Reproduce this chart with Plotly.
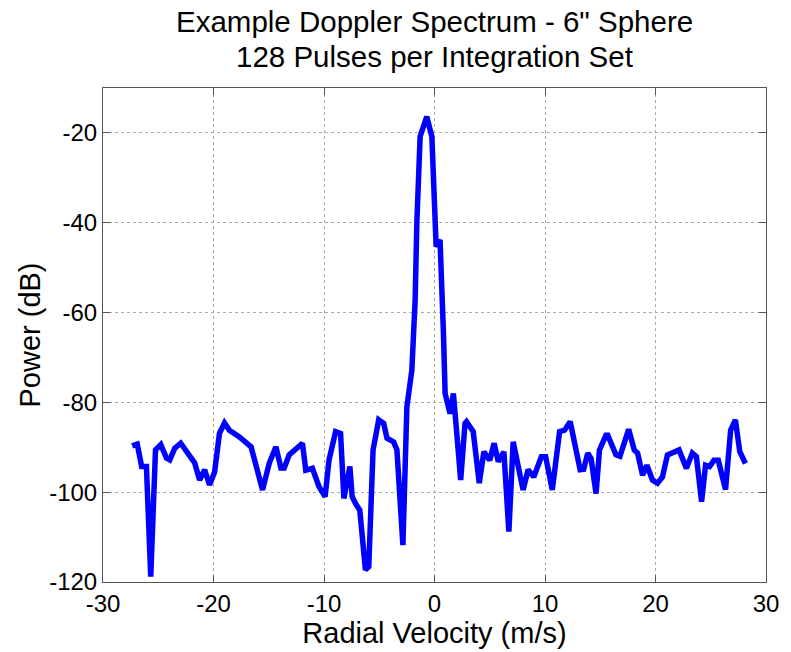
import plotly.graph_objects as go

velocity = [-27.36, -26.9, -26.5, -26.07, -25.68, -25.25, -24.77, -24.26, -23.96, -23.5,
            -22.97, -21.7, -21.26, -20.8, -20.36, -19.9, -19.46, -19.0, -18.56, -17.66,
            -16.6, -16.15, -15.56, -14.95, -14.35, -13.9, -13.6, -13.15, -12.55, -11.95,
            -11.65, -11.05, -10.45, -9.9, -9.55, -8.95, -8.5, -8.2, -7.66, -7.45,
            -7.15, -6.76, -6.25, -5.95, -5.56, -5.05, -4.6, -4.3, -3.7, -3.4,
            -2.86, -2.5, -2.05, -1.75, -1.6, -1.3, -0.7, -0.24, 0.15, 0.5,
            0.81, 0.96, 1.41, 1.71, 2.37, 2.76, 2.9, 3.5, 4.05, 4.47,
            5.0, 5.4, 5.77, 6.28, 6.73, 7.12, 8.02, 8.47, 8.98, 9.67,
            10.06, 10.66, 11.32, 11.77, 12.28, 13.18, 13.5, 13.87, 14.17, 14.62,
            14.93, 15.52, 15.68, 16.42, 16.78, 17.57, 18.08, 18.38, 18.83, 19.22,
            19.73, 20.18, 20.63, 21.08, 22.13, 22.8, 23.33, 23.7, 24.17, 24.53,
            24.89, 25.29, 25.68, 26.34, 26.8, 27.23, 27.63, 28.14]

power_db = [-89.7, -89.3, -94.3, -94.3, -118.8, -90.6, -89.4, -92.4, -92.8, -90.2,
            -89.1, -93.5, -97.3, -95.0, -98.4, -95.5, -86.9, -84.6, -86.2, -87.7,
            -89.9, -94.0, -99.5, -93.5, -89.9, -94.6, -94.6, -91.7, -90.2, -89.1,
            -95.1, -94.7, -98.8, -101.0, -92.9, -86.5, -86.9, -101.4, -94.3, -101.0,
            -102.5, -104.0, -117.3, -116.6, -90.6, -83.9, -84.7, -88.0, -88.8, -90.6,
            -111.8, -81.0, -72.8, -57.2, -40.1, -20.8, -16.4, -20.8, -45.3, -43.8,
            -64.6, -78.0, -82.5, -78.0, -97.3, -84.7, -84.3, -86.5, -98.0, -91.0,
            -92.9, -89.1, -93.2, -91.0, -108.8, -88.8, -99.5, -95.0, -96.6, -92.1,
            -92.1, -99.5, -86.5, -86.2, -84.3, -95.0, -94.9, -91.3, -92.5, -100.3,
            -90.6, -87.3, -87.3, -91.7, -92.0, -86.0, -90.6, -91.3, -96.2, -94.0,
            -97.3, -98.0, -96.6, -91.7, -90.6, -94.7, -91.3, -92.1, -102.1, -94.0,
            -94.3, -92.9, -92.9, -99.4, -86.2, -83.9, -91.0, -93.6]

x_ticks = [-30, -20, -10, 0, 10, 20, 30]
x_tick_labels = ["-30", "-20", "-10", "0", "10", "20", "30"]
y_ticks = [-120, -100, -80, -60, -40, -20]
y_tick_labels = ["-120", "-100", "-80", "-60", "-40", "-20"]

title_lines = ["Example Doppler Spectrum - 6\" Sphere", "128 Pulses per Integration Set"]

font_family = "Liberation Sans, Arial, sans-serif"

fig = go.Figure()
fig.add_trace(go.Scatter(
    x=velocity, y=power_db, mode="lines",
    line=dict(color="#0000FF", width=5.5),
    showlegend=False,
))

axis_common = dict(
    showline=True, linecolor="#555555", linewidth=1, mirror="ticks",
    ticks="inside", ticklen=7, tickcolor="#555555",
    showgrid=True, gridcolor="#aaaaaa", griddash="dot", gridwidth=1,
    zeroline=False,
    tickfont=dict(family=font_family, size=24, color="black"),
    title_font=dict(family=font_family, size=29, color="black"),
)

fig.update_layout(
    width=791, height=652,
    margin=dict(l=103, r=22, t=88, b=70),
    paper_bgcolor="white", plot_bgcolor="white",
    xaxis=dict(range=[-30, 30], tickvals=x_ticks, ticktext=x_tick_labels,
               title_text="Radial Velocity (m/s)", title_standoff=2, **axis_common),
    yaxis=dict(range=[-120, -10], tickvals=y_ticks, ticktext=y_tick_labels,
               title_text="Power (dB)", title_standoff=0, **axis_common),
    annotations=[
        dict(text=title_lines[0], xref="paper", yref="paper", x=0.5, y=1.0 + 66 / 494,
             xanchor="center", yanchor="middle", showarrow=False,
             font=dict(family=font_family, size=29.5, color="black")),
        dict(text=title_lines[1], xref="paper", yref="paper", x=0.5, y=1.0 + 31 / 494,
             xanchor="center", yanchor="middle", showarrow=False,
             font=dict(family=font_family, size=29.5, color="black")),
    ],
)

fig.write_html("out.html")
